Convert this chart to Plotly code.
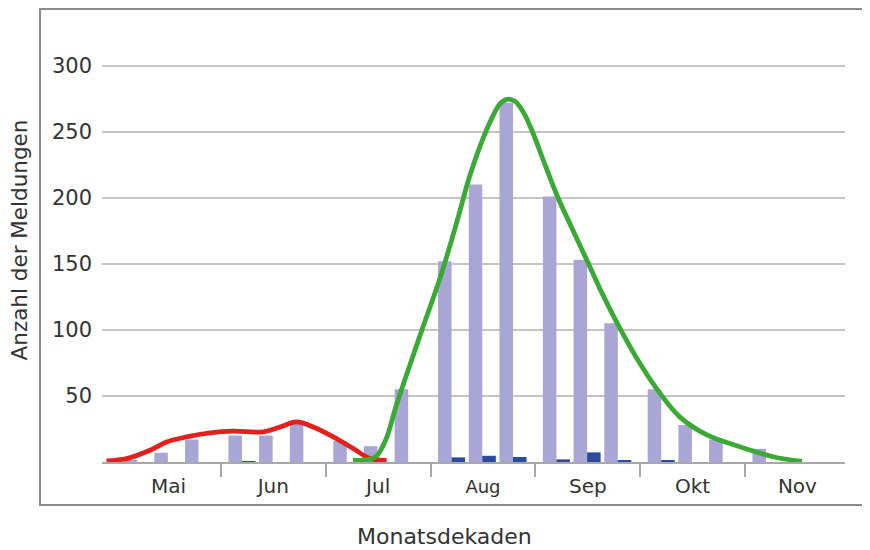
import plotly.graph_objects as go

# ---------------- data ----------------
months = ["Mai", "Jun", "Jul", "Aug", "Sep", "Okt", "Nov"]
# light bars: counts per decade (Mai I ... Nov III)
light_counts = [1, 7, 17,
                20, 20, 29,
                16, 12, 55,
                152, 210, 272,
                201, 153, 105,
                55, 28, 17,
                10, 0, 0]
# dark bars: counts per decade
dark_counts = [0, 0, 0,
               0.6, 0, 0,
               0, 0, 0,
               3.5, 4.7, 3.8,
               2, 7.3, 1.3,
               0.8, 0, 0,
               0, 0, 0]
# red smoothed curve (time in months since start of Mai, value)
red_time = [-0.091, 0.100, 0.323, 0.482, 0.673, 0.895, 1.117, 1.404, 1.563,
            1.722, 1.881, 2.072, 2.262, 2.422, 2.581]
red_vals = [0.8, 2.6, 8.9, 15.2, 19, 22, 23.3, 22.8, 26.5,
            30.3, 26.5, 19, 10.2, 2.6, 1.3]
# green smoothed curve
green_time = [2.260, 2.374, 2.479, 2.574, 2.670, 2.775, 2.927, 3.090, 3.252,
              3.376, 3.538, 3.662, 3.729, 3.805, 3.891, 3.977, 4.092, 4.216,
              4.349, 4.492, 4.635, 4.788, 4.998, 5.198, 5.380, 5.637, 5.952,
              6.267, 6.544]
green_vals = [1.5, 1.5, 4, 17, 42, 67, 102, 139, 182,
              217, 252, 271, 274.5, 273, 264, 249, 225, 200,
              177, 152.6, 128, 104, 74.5, 51, 34, 20.5, 11.5,
              4, 0.5]
y_ticks = [50, 100, 150, 200, 250, 300]

# ---------------- layout helpers ----------------
FONT = "DejaVu Sans"
TXT = "#333333"
GROUP0, STEP, BW = 0.2006, 0.293, 0.129
n_dec = 3
xpos = [mi + GROUP0 + STEP * d for mi in range(len(months)) for d in range(n_dec)]

fig = go.Figure()
fig.add_trace(go.Bar(x=xpos, y=light_counts, width=BW, offset=-BW,
                     marker=dict(color="#A9A5D4", line=dict(width=0)),
                     showlegend=False, hoverinfo="y"))
fig.add_trace(go.Bar(x=xpos, y=dark_counts, width=BW, offset=0,
                     marker=dict(color="#2C4B9B", line=dict(width=0)),
                     showlegend=False, hoverinfo="y"))
fig.add_trace(go.Scatter(x=red_time, y=red_vals, mode="lines",
                         line=dict(color="#E3201E", width=4.8, shape="spline", smoothing=1.0),
                         showlegend=False, hoverinfo="skip"))
fig.add_trace(go.Scatter(x=green_time, y=green_vals, mode="lines",
                         line=dict(color="#3BA935", width=4.8, shape="spline", smoothing=1.0),
                         showlegend=False, hoverinfo="skip"))

month_centers = [i + 0.5 for i in range(len(months))]
tick_text = [("<span style='font-size:18px'>%s</span>" % m) if m == "Aug" else m for m in months]

# page body has an 8px margin -> figure is 862x542 so it fits the 870x550 window
fig.update_layout(
    width=862, height=542,
    margin=dict(l=94, r=25, t=18, b=88),
    paper_bgcolor="white", plot_bgcolor="white",
    barmode="overlay",
    font=dict(family=FONT, color=TXT, size=20),
    xaxis=dict(range=[-0.1345, 6.954], tickmode="array", tickvals=month_centers,
               ticktext=tick_text, ticks="", showgrid=False, zeroline=False,
               showline=True, linecolor="#A8A8A8", linewidth=1.5,
               tickfont=dict(family=FONT, size=20, color=TXT),
               ticklabelstandoff=5,
               minor=dict(tickmode="array", tickvals=list(range(1, len(months))),
                          ticks="outside", ticklen=13, tickwidth=1.5,
                          tickcolor="#A8A8A8", showgrid=False)),
    yaxis=dict(range=[0, 330], tickmode="array", tickvals=y_ticks,
               showgrid=True, gridcolor="#C4C4C4", gridwidth=1.5,
               zeroline=False, showline=False, ticks="",
               ticklabelstandoff=9,
               tickfont=dict(family=FONT, size=21, color=TXT)),
    shapes=[dict(type="rect", xref="paper", yref="paper",
                 x0=-0.0834, x1=1.2, y0=-0.0986, y1=1.039,
                 line=dict(color="#8A8A8A", width=2), fillcolor="rgba(0,0,0,0)")],
    annotations=[
        dict(text="Anzahl der Meldungen", xref="paper", yref="paper",
             x=-0.1112, y=0.509, textangle=-90, showarrow=False,
             font=dict(family=FONT, size=21.5, color=TXT),
             xanchor="center", yanchor="middle"),
        dict(text="Monatsdekaden", xref="paper", yref="paper",
             x=0.4616, y=-0.172, showarrow=False,
             font=dict(family=FONT, size=22, color=TXT),
             xanchor="center", yanchor="middle"),
    ],
)

fig.write_html("out.html")
